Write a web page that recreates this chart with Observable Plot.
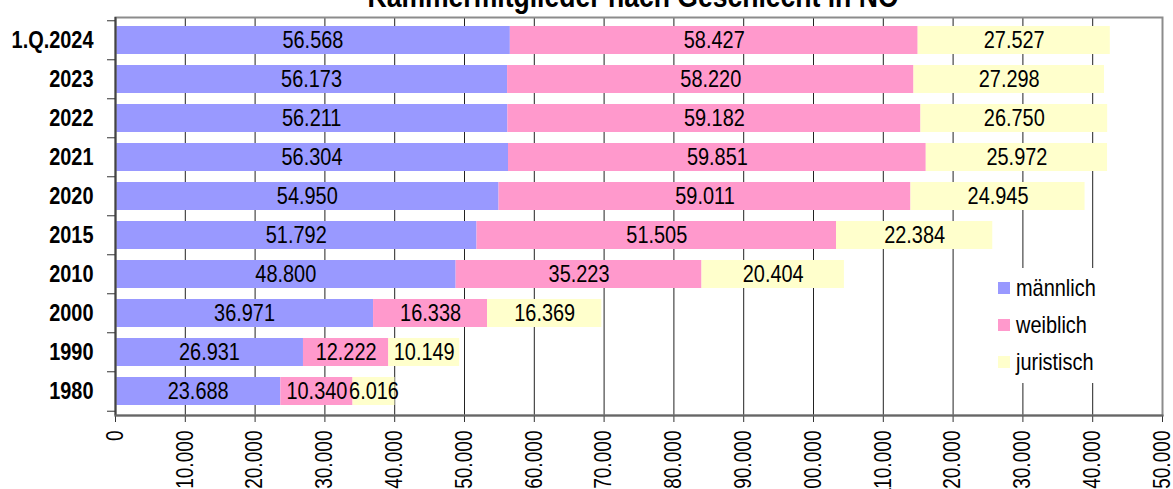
<!DOCTYPE html>
<html>
<head>
<meta charset="utf-8">
<script src="https://cdn.jsdelivr.net/npm/d3@7"></script>
<script src="https://cdn.jsdelivr.net/npm/@observablehq/plot@0.6"></script>
<style>
  html, body { margin: 0; padding: 0; background: white; }
  #wrap { position: relative; width: 1173px; height: 489px; overflow: hidden; }
  #legend { position: absolute; left: 986px; top: 268px; width: 114px; height: 115px; background: white;
            font-family: "Liberation Sans", Arial, sans-serif; font-size: 24px; color: #000; }
  .item { position: absolute; left: 12px; height: 26px; display: flex; align-items: center; white-space: nowrap; }
  .sw { width: 12px; height: 12px; margin-right: 6px; flex: none; }
  .lab { display: inline-block; transform: scaleX(0.83); transform-origin: 0 50%; }
</style>
</head>
<body>
<div id="wrap"><div id="chart"></div><div id="legend"></div></div>
<script>
const title = "Kammermitglieder nach Geschlecht in NÖ";
const years = ["1.Q.2024", "2023", "2022", "2021", "2020", "2015", "2010", "2000", "1990", "1980"];
const series = ["männlich", "weiblich", "juristisch"];
const colors = ["#9999FF", "#FF99CC", "#FFFFCC"];
const maennlich = [56568, 56173, 56211, 56304, 54950, 51792, 48800, 36971, 26931, 23688];
const weiblich  = [58427, 58220, 59182, 59851, 59011, 51505, 35223, 16338, 12222, 10340];
const juristisch = [27527, 27298, 26750, 25972, 24945, 22384, 20404, 16369, 10149, 6016];
const xTicks = d3.range(0, 150001, 10000);

const values = [maennlich, weiblich, juristisch];
const data = [];
years.forEach((y, i) => series.forEach((s, j) => data.push({year: y, sex: s, value: values[j][i]})));

const de = d3.formatLocale({decimal: ",", thousands: ".", grouping: [3], currency: ["", " €"]});
const fmt = de.format(",");

const font = "'Liberation Sans', Arial, sans-serif";
const K = 0.83; // condensed glyph width as in the original

const chart = Plot.plot({
  width: 1173,
  height: 489,
  marginTop: 17,
  marginBottom: 74,
  marginLeft: 115,
  marginRight: 11,
  style: {fontFamily: font, fontSize: "22px", color: "#000", background: "white"},
  x: {domain: [0, 150000], axis: null},
  y: {domain: years, paddingInner: 0.29, paddingOuter: 0.19, align: 0.465, axis: null},
  color: {domain: series, range: colors},
  marks: [
    Plot.ruleX(xTicks, {x: d => d, stroke: "#222", strokeWidth: 1}),
    Plot.barX(data, Plot.stackX({y: "year", x: "value", z: "sex", fill: "sex", order: series})),
    Plot.text(data, Plot.stackX({y: "year", x: "value", z: "sex", order: series, text: d => fmt(d.value),
      fill: "#000", fontSize: 24})),
    Plot.frame({stroke: "#8c8c8c", strokeWidth: 2}),
    Plot.ruleX([0], {stroke: "#444", strokeWidth: 2}),
    Plot.ruleY(years, {y: d => d, dy: -19.72, insetLeft: -8, insetRight: 1047, stroke: "#333"}),
    Plot.ruleY(years.slice(-1), {y: d => d, dy: 19.72, insetLeft: -8, insetRight: 1047, stroke: "#333"}),
    Plot.axisX({ticks: xTicks, tickFormat: fmt, tickRotate: -90, tickSize: 7, tickPadding: 8,
      fontSize: 23, stroke: "#333", label: null}),
    Plot.frame({anchor: "bottom", stroke: "#666", strokeWidth: 2}),
    Plot.axisY({tickSize: 0, tickPadding: 22, fontWeight: "bold", fontSize: 24, label: null}),
    Plot.text([title], {frameAnchor: "top", dy: -11, dx: -6, lineAnchor: "bottom", fontWeight: "bold",
      fontSize: 32, fill: "#000"})
  ]
});

// condense every text horizontally in its own frame (narrow glyphs like the original)
const isNum = v => v != null && /^-?[\d.]+$/.test(v.trim());
chart.querySelectorAll("text").forEach(el => {
  let tx = 0, ty = 0;
  const ax = el.getAttribute("x"), ay = el.getAttribute("y");
  if (isNum(ax)) { tx = +ax; el.removeAttribute("x"); }
  if (isNum(ay)) { ty = +ay; el.removeAttribute("y"); }
  const t = el.getAttribute("transform") || "";
  el.setAttribute("transform", `${t} translate(${tx},${ty}) scale(${K},1)`);
});
document.getElementById("chart").append(chart);

const legend = document.getElementById("legend");
series.forEach((s, j) => {
  const it = document.createElement("div");
  it.className = "item";
  it.style.top = (7 + j * 37) + "px";
  it.innerHTML = `<span class="sw" style="background:${colors[j]}"></span><span class="lab">${s}</span>`;
  legend.append(it);
});
</script>
</body>
</html>
